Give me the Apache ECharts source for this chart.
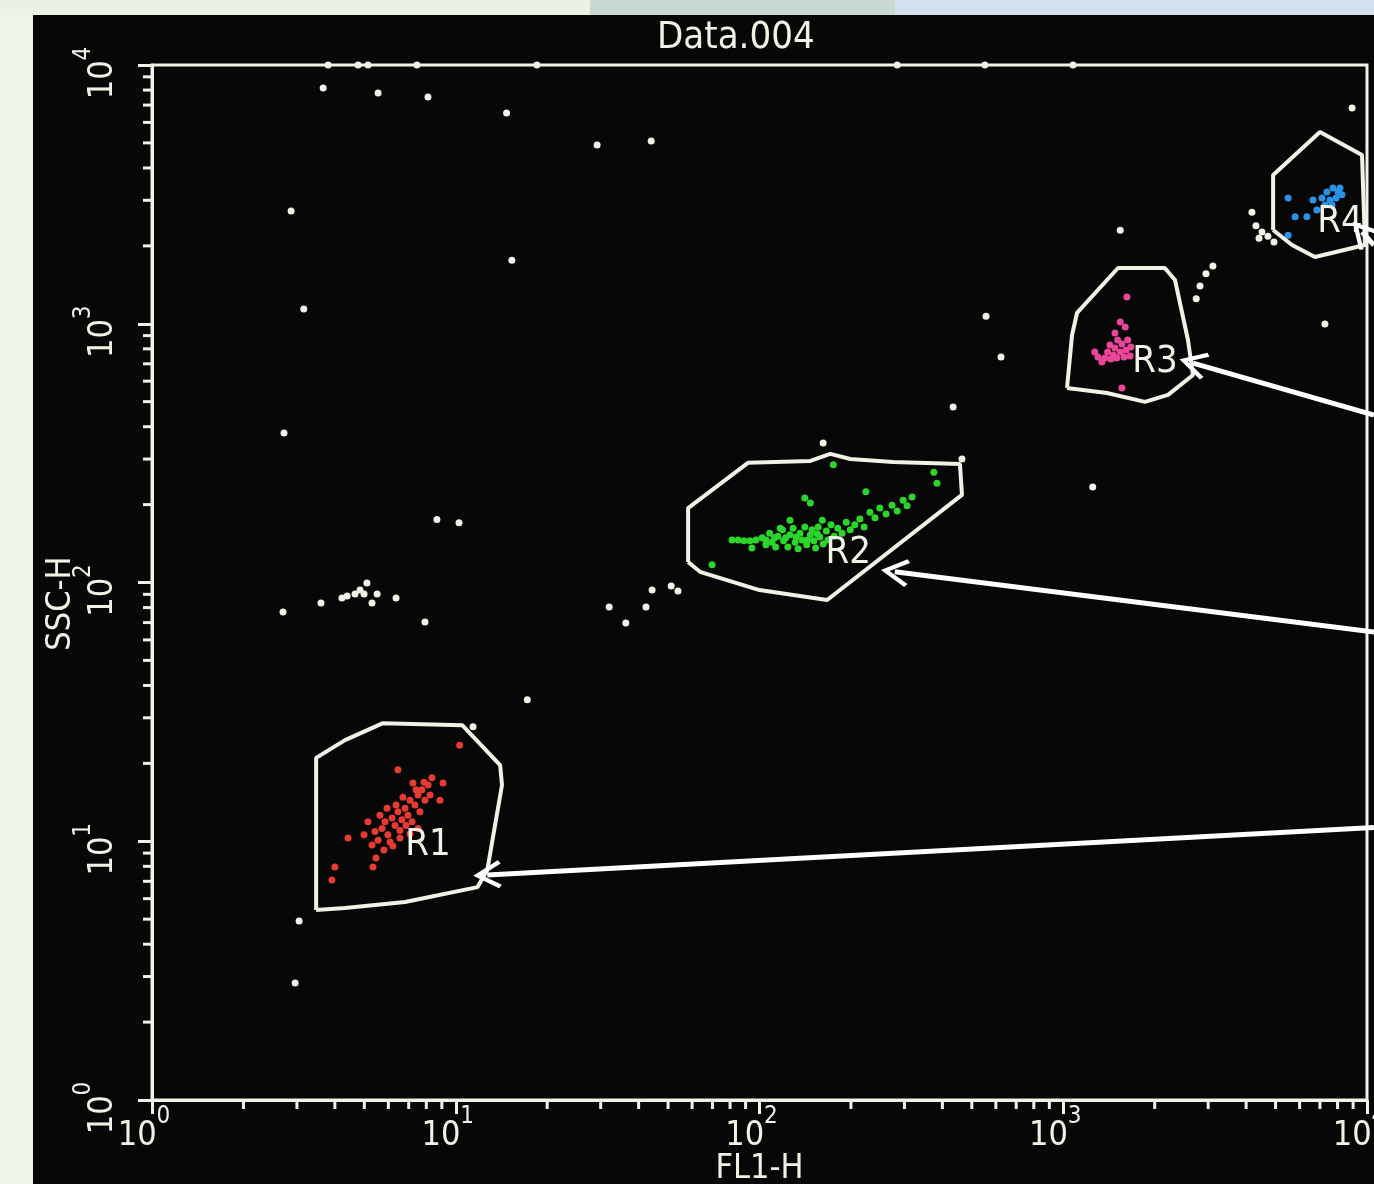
<!DOCTYPE html>
<html>
<head>
<meta charset="utf-8">
<title>Data.004</title>
<script src="https://cdn.jsdelivr.net/npm/echarts@6/dist/echarts.min.js"></script>
<style>
  html, body { margin: 0; padding: 0; background: #070708; }
  #chart { width: 1374px; height: 1184px; }
</style>
</head>
<body>
<div id="chart"></div>
<script>
// ---- axis ticks (log, decades) ----
const tickExponents = ['0', '1', '2', '3', '4'];
const minorTickValues = [2, 3, 4, 5, 6, 7, 8, 9, 20, 30, 40, 50, 60, 70, 80, 90,
  200, 300, 400, 500, 600, 700, 800, 900, 2000, 3000, 4000, 5000, 6000, 7000, 8000, 9000];

// ---- events outside the gates (FL1-H, SSC-H) ----
const ungated = [
  [3.66, 8150], [5.55, 7800], [8.1, 7520], [14.7, 6520], [29.2, 4910], [44, 5080],
  [2.87, 2730], [15.3, 1760], [3.16, 1140], [2.72, 378], [8.67, 175], [10.25, 170],
  [2.70, 76.9], [3.60, 83.4], [4.22, 87.1], [4.39, 88.7], [4.66, 90.3], [4.84, 93.5],
  [4.99, 90.3], [5.10, 99.5], [5.30, 83.4], [5.51, 90.3], [6.36, 87.1], [7.92, 70.3],
  [17.2, 35.2], [32.0, 80.4], [36.3, 69.7], [42.3, 80.4], [44.3, 93.5], [51.2, 96.9],
  [53.9, 92.7], [11.4, 27.7], [3.05, 4.92], [2.96, 2.83],
  [162, 346], [464, 300], [434, 477], [557, 1070], [624, 744], [1250, 234],
  [1540, 2300], [7270, 998], [8930, 6820],
  [3110, 1670], [2950, 1560], [2820, 1400], [2740, 1250],
  [4180, 2700], [4310, 2390], [4510, 2260], [4720, 2180], [4410, 2140], [4940, 2070],
  // saturated on the top edge
  [3.80, 10000], [4.77, 10000], [5.14, 10000], [7.45, 10000], [18.5, 10000],
  [284, 10000], [552, 10000], [1077, 10000]
];

// ---- gated populations ----
const r1Events = [
  [5.30, 9.68], [5.55, 10.1], [5.42, 10.9], [5.72, 11.2], [5.98, 10.6], [5.85, 11.9],
  [6.17, 12.3], [6.31, 11.5], [6.08, 9.93], [6.45, 13.0], [6.65, 12.1], [6.81, 13.4],
  [6.55, 11.0], [6.96, 12.6], [7.07, 14.4], [7.18, 11.9], [7.34, 13.8], [7.51, 15.1],
  [7.62, 13.0], [7.74, 15.8], [7.92, 14.4], [8.11, 16.5], [8.23, 15.1], [7.40, 15.8],
  [6.86, 11.5], [6.36, 13.8], [5.63, 12.6], [5.80, 9.25], [6.21, 9.59], [6.55, 10.3],
  [7.07, 10.7], [7.51, 11.2], [8.35, 17.6], [7.86, 16.9], [7.23, 16.8], [5.14, 11.9],
  [5.46, 8.61], [5.94, 13.4], [6.70, 14.8],
  [10.3, 23.5], [6.45, 18.9], [9.08, 16.8], [4.42, 10.3], [4.00, 7.95], [3.91, 7.08],
  [5.34, 7.95], [4.99, 10.6], [8.87, 14.4]
];
const r2Events = [
  [81.2, 146], [85.0, 146], [88.9, 145], [93.0, 145], [97.3, 146], [94.4, 136],
  [102, 149], [105, 140], [108, 155], [110, 143], [113, 137], [115, 151], [119, 160],
  [120, 145], [124, 137], [126, 153], [129, 162], [131, 143], [134, 135], [136, 155],
  [138, 146], [141, 164], [143, 140], [147, 153], [149, 160], [151, 145], [153, 136],
  [156, 164], [158, 150], [162, 141], [166, 158], [168, 146], [172, 167], [176, 151],
  [181, 162], [187, 155], [193, 171], [199, 160], [206, 167], [214, 176], [221, 164],
  [231, 187], [240, 178], [249, 194], [261, 184], [273, 199], [284, 189], [297, 208],
  [306, 198], [318, 214], [141, 212], [147, 203], [175, 285], [224, 224], [375, 267],
  [384, 242], [69.8, 117], [126, 174], [161, 174], [117, 162], [122, 149], [132, 150],
  [144, 146], [155, 154], [112, 149], [105, 146]
];
const r3Events = [
  [1620, 1270], [1540, 1016], [1600, 971], [1480, 921], [1510, 865], [1425, 828],
  [1480, 806], [1560, 835], [1630, 865], [1400, 778], [1460, 757], [1540, 778],
  [1610, 792], [1670, 813], [1370, 738], [1435, 731], [1500, 738], [1585, 744],
  [1660, 750], [1300, 744], [1340, 711], [1560, 565], [1270, 778]
];
const r4Events = [
  [5500, 3060], [6340, 2590], [5800, 2590], [6840, 2750], [6640, 3010], [5500, 2200],
  [7110, 3060], [7380, 3230], [7730, 3350], [8030, 3230], [7550, 3010], [7910, 3060],
  [8270, 3150], [8150, 3350], [7270, 2880], [7670, 2880]
];

// ---- gate outlines ----
const gateR1 = [[3.47, 5.42], [3.47, 21.0], [4.32, 24.6], [5.76, 28.6], [10.5, 28.1], [14.0, 19.7],
  [14.2, 16.5], [12.7, 7.74], [11.8, 6.65], [6.81, 5.82], [4.32, 5.52], [3.47, 5.42]];
const gateR2 = [[58.2, 120], [58.2, 194], [91.6, 290], [147, 295], [171, 314], [199, 300],
  [275, 292], [457, 287], [464, 218], [167, 85.6], [100, 93.5], [63.7, 110], [58.2, 120]];
const gateR3 = [[1029, 565], [1069, 905], [1110, 1101], [1514, 1642], [2160, 1642], [2333, 1476],
  [2574, 865], [2674, 634], [2213, 531], [1858, 499], [1393, 540], [1029, 565]];
const gateR4 = [[4908, 2303], [4908, 3757], [7000, 5510], [9630, 4490], [9850, 2015],
  [6740, 1811], [5665, 2015], [4908, 2303]];
const gateNames = ['R1', 'R2', 'R3', 'R4'];
const gateLabelPos = [[8.11, 9.68], [196, 130], [2004, 711], [8150, 2473]];

// ---- annotation arrows (from the right edge to each gate) ----
const arrows = [
  [[10540, 2015], [9630, 2263]],
  [[10540, 444], [2674, 705]],
  [[10540, 64.4], [279, 110]],
  [[10540, 11.3], [12.7, 7.41]]
];

const ink = '#f3f0e6';
const font = "'Liberation Sans Narrow', 'DejaVu Sans Condensed', 'Liberation Sans', sans-serif";

function minorTicks(dir) {
  return {
    type: 'custom',
    silent: true,
    clip: false,
    z: 5,
    data: minorTickValues.map(v => (dir === 'x' ? [v, 1] : [1, v])),
    encode: { x: 0, y: 1 },
    renderItem: function (params, api) {
      const p = api.coord([api.value(0), api.value(1)]);
      const shape = dir === 'x'
        ? { x1: p[0], y1: p[1], x2: p[0], y2: p[1] + 9 }
        : { x1: p[0], y1: p[1], x2: p[0] - 9, y2: p[1] };
      return { type: 'line', shape: shape, style: { stroke: ink, lineWidth: 3 } };
    }
  };
}

function gateLine(points) {
  return {
    type: 'line',
    data: points,
    showSymbol: false,
    symbol: 'none',
    silent: true,
    z: 4,
    lineStyle: { color: ink, width: 4 }
  };
}

function events(points, color, size) {
  return {
    type: 'scatter',
    data: points,
    symbol: 'circle',
    symbolSize: size,
    silent: true,
    z: 3,
    itemStyle: { color: color, opacity: 1 }
  };
}

const labelRich = {
  b: { fontSize: 34, lineHeight: 62, color: ink, fontFamily: font },
  s: { fontSize: 24, lineHeight: 24, verticalAlign: 'top', color: ink, fontFamily: font, padding: [0, 16, 0, 0] }
};

function decadeLabel(value, index) {
  const e = tickExponents[index] !== undefined ? tickExponents[index] : String(Math.round(Math.log10(value)));
  return '{b|10}{s|' + e + '}';
}

const axisCommon = {
  type: 'log',
  logBase: 10,
  min: 1,
  max: 10000,
  nameMoveOverlap: false,
  splitLine: { show: false },
  axisLine: { show: true, lineStyle: { color: ink, width: 3 } },
  axisTick: { show: true, length: 14, lineStyle: { color: ink, width: 3 } }
};

const chart = echarts.init(document.getElementById('chart'));

const option = {
  backgroundColor: '#070708',
  animation: false,
  textStyle: { fontFamily: font },
  title: {
    text: 'Data.004',
    left: 652,
    top: 14,
    textStyle: { color: ink, fontSize: 38, fontWeight: 'normal', fontFamily: font }
  },
  // photo margins around the monitor
  graphic: [
    { type: 'rect', z: -10, shape: { x: 0, y: 0, width: 33, height: 1184 }, style: { fill: '#eef4e9' } },
    { type: 'rect', z: -10, shape: { x: 0, y: 0, width: 590, height: 15 }, style: { fill: '#ebf1e3' } },
    { type: 'rect', z: -10, shape: { x: 590, y: 0, width: 305, height: 15 }, style: { fill: '#c8d8d3' } },
    { type: 'rect', z: -10, shape: { x: 895, y: 0, width: 479, height: 15 }, style: { fill: '#d3e1ef' } }
  ],
  grid: {
    left: 152,
    right: 7,
    top: 65,
    bottom: 84,
    containLabel: false,
    outerBoundsMode: 'none',
    show: true,
    borderColor: ink,
    borderWidth: 3
  },
  xAxis: Object.assign({}, axisCommon, {
    name: 'FL1-H',
    nameLocation: 'middle',
    nameGap: 52,
    nameTextStyle: { color: ink, fontSize: 34, fontFamily: font },
    axisLabel: {
      color: ink, margin: 5, formatter: decadeLabel, rich: labelRich,
      showMinLabel: true, showMaxLabel: true
    }
  }),
  yAxis: Object.assign({}, axisCommon, {
    name: 'SSC-H',
    nameLocation: 'middle',
    nameRotate: 90,
    nameGap: 74,
    nameTextStyle: { color: ink, fontSize: 34, fontFamily: font, padding: [0, 42, 0, 0] },
    axisLabel: {
      color: ink, margin: 18, rotate: 90, formatter: decadeLabel, rich: labelRich,
      showMinLabel: true, showMaxLabel: true
    }
  }),
  series: [
    minorTicks('x'),
    minorTicks('y'),
    gateLine(gateR1),
    gateLine(gateR2),
    gateLine(gateR3),
    gateLine(gateR4),
    events(ungated, ink, 7),
    events(r1Events, '#e63a32', 7),
    events(r2Events, '#2bd52c', 7),
    events(r3Events, '#ea4598', 7),
    events(r4Events, '#2a93e6', 7),
    {
      type: 'scatter',
      silent: true,
      z: 6,
      symbolSize: 1,
      itemStyle: { color: 'rgba(0,0,0,0)', opacity: 1 },
      data: gateNames.map((n, i) => ({ name: n, value: gateLabelPos[i] })),
      label: {
        show: true,
        position: 'inside',
        formatter: '{b}',
        color: ink,
        opacity: 1,
        fontSize: 38,
        fontFamily: font
      }
    },
    {
      type: 'lines',
      coordinateSystem: 'cartesian2d',
      clip: false,
      silent: true,
      z: 10,
      symbol: ['none', 'path://M50 0 L100 70 L88 78 L50 24 L12 78 L0 70 Z'],
      symbolSize: [0, 28],
      lineStyle: { color: '#ffffff', width: 5, opacity: 1, curveness: 0 },
      data: arrows.map(c => ({ coords: c }))
    }
  ]
};

chart.setOption(option);
</script>
</body>
</html>
